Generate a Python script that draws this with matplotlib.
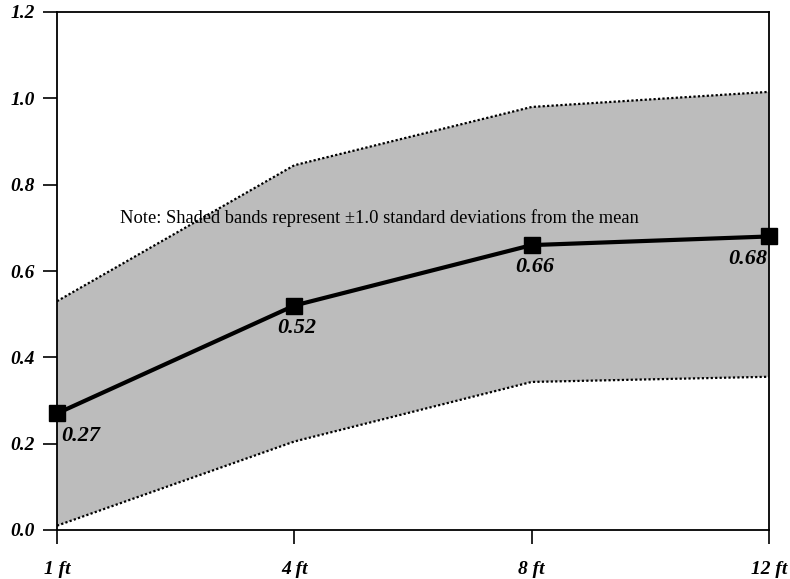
#!/usr/bin/env python3

"""
Mean with +/-1.0 standard deviation band by distance.

* out.png
"""

import matplotlib
matplotlib.use('Agg')
import matplotlib.pyplot as plt
import numpy as np

distances = ['1 ft', '4 ft', '8 ft', '12 ft']
mean_values = [0.27, 0.52, 0.66, 0.68]
upper_band = [0.53, 0.845, 0.98, 1.015]
lower_band = [0.01, 0.205, 0.343, 0.355]
y_ticks = [0.0, 0.2, 0.4, 0.6, 0.8, 1.0, 1.2]
note_text = 'Note: Shaded bands represent \u00b11.0 standard deviations from the mean'

label_font = dict(family='Liberation Serif', weight='bold', style='italic', size=14)
value_font = dict(family='Liberation Serif', weight='bold', style='italic', size=16)


def plot_band(ax, x):
    ax.fill_between(x, lower_band, upper_band, facecolor='#bcbcbc', edgecolor='none', zorder=1)
    ax.plot(x, upper_band, color='black', lw=1.6, ls=(0, (1, 1)), zorder=2)
    ax.plot(x, lower_band, color='black', lw=1.6, ls=(0, (1, 1)), zorder=2)


def plot_mean(ax, x):
    ax.plot(x, mean_values, color='black', lw=3, marker='s', markersize=11, zorder=3, clip_on=False)
    last = len(x) - 1
    for i, v in enumerate(mean_values):
        if i == 0:
            ha, dx = 'left', 3
        elif i == last:
            ha, dx = 'right', -1
        else:
            ha, dx = 'center', 2
        ax.annotate(f'{v:.2f}', (x[i], v), xytext=(dx, -16), textcoords='offset points',
                    ha=ha, va='center', zorder=4, **value_font)


def main():
    fig = plt.figure(figsize=(7.9, 5.79), dpi=100)
    ax = fig.add_axes([57 / 790, 1 - 530 / 579, (769 - 57) / 790, (530 - 12) / 579])

    x = np.arange(len(distances))
    plot_band(ax, x)
    plot_mean(ax, x)

    ax.text(120 / 790, 1 - 218 / 579, note_text, transform=fig.transFigure,
            family='Liberation Serif', size=13.3, va='center', ha='left', zorder=5)

    ax.set_xlim(x[0], x[-1])
    ax.set_ylim(0, 1.2)
    ax.set_xticks(x)
    ax.set_xticklabels(distances, **label_font)
    ax.set_yticks(y_ticks)
    ax.set_yticklabels([f'{t:.1f}' for t in y_ticks], **label_font)
    ax.tick_params(axis='y', length=10, width=1.2, pad=6)
    ax.tick_params(axis='x', length=10, width=1.2, pad=12)
    for spine in ax.spines.values():
        spine.set_linewidth(1.3)

    fig.savefig('out.png', dpi=100)
    plt.close(fig)


if __name__ == "__main__":
    main()
